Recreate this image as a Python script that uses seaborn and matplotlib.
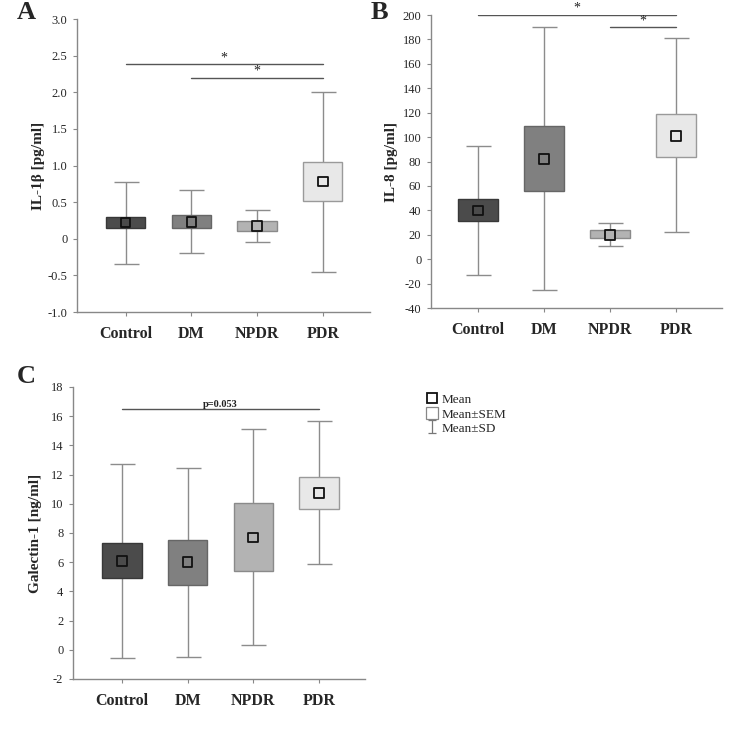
import numpy as np
import pandas as pd
import matplotlib
import matplotlib.pyplot as plt
import seaborn as sns
from matplotlib.lines import Line2D
from matplotlib.patches import Patch

matplotlib.use("Agg")

# ==========================================
# Data
# ==========================================
groups = ["Control", "DM", "NPDR", "PDR"]

il1b_mean = [0.22, 0.23, 0.17, 0.78]
il1b_sem_lo = [0.15, 0.15, 0.10, 0.51]
il1b_sem_hi = [0.30, 0.32, 0.24, 1.05]
il1b_sd_lo = [-0.34, -0.19, -0.05, -0.45]
il1b_sd_hi = [0.78, 0.66, 0.39, 2.01]

il8_mean = [40, 82, 20, 101]
il8_sem_lo = [31, 56, 17, 84]
il8_sem_hi = [49, 109, 24, 119]
il8_sd_lo = [-13, -25, 11, 22]
il8_sd_hi = [93, 190, 30, 181]

gal_mean = [6.1, 6.0, 7.7, 10.75]
gal_sem_lo = [4.9, 4.45, 5.4, 9.65]
gal_sem_hi = [7.3, 7.5, 10.05, 11.85]
gal_sd_lo = [-0.55, -0.5, 0.35, 5.85]
gal_sd_hi = [12.75, 12.45, 15.1, 15.7]

il1b_ticks = [-1.0, -0.5, 0, 0.5, 1.0, 1.5, 2.0, 2.5, 3.0]
il1b_ticklabels = ["-1.0", "-0.5", "0", "0.5", "1.0", "1.5", "2.0", "2.5", "3.0"]
il8_ticks = list(range(-40, 201, 20))
gal_ticks = list(range(-2, 19, 2))

# significance brackets: (start group, end group, y, text)
il1b_sig = [(0, 3, 2.38, "*"), (1, 3, 2.20, "*")]
il8_sig = [(0, 3, 200, "*"), (2, 3, 190, "*")]
gal_sig = [(0, 3, 16.5, "p=0.053")]

fills = ["#4b4b4b", "#808080", "#b3b3b3", "#e8e8e8"]
edges = ["#383838", "#666666", "#8a8a8a", "#9a9a9a"]

sns.set_style("ticks")
plt.rcParams["font.family"] = ["Liberation Serif", "DejaVu Serif"]


def make_df(mean, sem_lo, sem_hi, sd_lo, sd_hi):
    return pd.DataFrame({
        "group": groups,
        "pos": np.arange(len(groups)),
        "mean": mean,
        "sem_lo": sem_lo,
        "sem_hi": sem_hi,
        "sd_lo": sd_lo,
        "sd_hi": sd_hi,
    })


def draw_panel(ax, df, ylabel, ticks, ticklabels, ylim, xlim, sigs, sig_fs, sig_bold, labelpad):
    err = [df["mean"] - df["sd_lo"], df["sd_hi"] - df["mean"]]
    ax.errorbar(df["pos"], df["mean"], yerr=err, fmt="none", ecolor="#8c8c8c",
                elinewidth=1.0, capsize=9, capthick=1.0, zorder=1)
    ax.bar(df["pos"], df["sem_hi"] - df["sem_lo"], bottom=df["sem_lo"], width=0.6,
           color=fills, edgecolor=edges, linewidth=1.0, zorder=2)
    sns.scatterplot(data=df, x="pos", y="mean", hue="group", palette=fills, marker="s",
                    s=48, edgecolor="#111111", linewidth=1.3, legend=False, ax=ax, zorder=3)

    for g0, g1, y, txt in sigs:
        ax.plot([g0, g1], [y, y], color="#555555", lw=1.0, zorder=1)
        ax.text((g0 + g1) / 2, y, txt, ha="center", va="bottom", fontsize=sig_fs,
                fontweight="bold" if sig_bold else "normal", color="#222222")

    ax.set_xlim(*xlim)
    ax.set_ylim(*ylim)
    ax.set_xticks(df["pos"])
    ax.set_xticklabels(groups, fontsize=11.5, fontweight="bold")
    ax.set_yticks(ticks)
    ax.set_yticklabels(ticklabels, fontsize=9)
    ax.set_xlabel("")
    ax.set_ylabel(ylabel, fontsize=11, fontweight="bold", labelpad=labelpad)
    ax.tick_params(axis="x", length=3, width=0.8, color="#888888", pad=7)
    ax.tick_params(axis="y", length=3, width=0.8, color="#888888", pad=4)
    for side in ["top", "right"]:
        ax.spines[side].set_visible(False)
    for side in ["left", "bottom"]:
        ax.spines[side].set_color("#888888")
        ax.spines[side].set_linewidth(1.0)
    ax.grid(False)


fig = plt.figure(figsize=(7.5, 7.52), dpi=100)

ax_a = fig.add_axes([0.1027, 0.5851, 0.3907, 0.3896])
ax_b = fig.add_axes([0.5747, 0.5904, 0.388, 0.3896])
ax_c = fig.add_axes([0.0973, 0.0971, 0.3893, 0.3883])

draw_panel(ax_a, make_df(il1b_mean, il1b_sem_lo, il1b_sem_hi, il1b_sd_lo, il1b_sd_hi),
           "IL-1β [pg/ml]", il1b_ticks, il1b_ticklabels, (-1.0, 3.0), (-0.74, 3.72),
           il1b_sig, 10, False, 2)
draw_panel(ax_b, make_df(il8_mean, il8_sem_lo, il8_sem_hi, il8_sd_lo, il8_sd_hi),
           "IL-8 [pg/ml]", il8_ticks, [str(t) for t in il8_ticks], (-40, 200), (-0.71, 3.7),
           il8_sig, 10, False, 3)
draw_panel(ax_c, make_df(gal_mean, gal_sem_lo, gal_sem_hi, gal_sd_lo, gal_sd_hi),
           "Galectin-1 [ng/ml]", gal_ticks, [str(t) for t in gal_ticks], (-2, 18),
           (-0.745, 3.7), gal_sig, 7.5, True, 6)

# panel letters
fig.text(0.035, 0.984, "A", fontsize=19, fontweight="bold", ha="center", va="center")
fig.text(0.506, 0.984, "B", fontsize=19, fontweight="bold", ha="center", va="center")
fig.text(0.035, 0.499, "C", fontsize=19, fontweight="bold", ha="center", va="center")

# legend handles; the SD handle is a dummy errorbar with small caps
h_mean = Line2D([], [], marker="s", ls="none", markersize=7, markerfacecolor="white",
                markeredgecolor="#111111", markeredgewidth=1.3)
h_sem = Patch(facecolor="white", edgecolor="#888888", linewidth=0.9)
h_sd = ax_c.errorbar([np.nan], [np.nan], yerr=[1], fmt="none", ecolor="#777777",
                     elinewidth=0.9, capsize=3, capthick=0.9)
fig.legend([h_mean, h_sem, h_sd], ["Mean", "Mean±SEM", "Mean±SD"],
           loc="upper left", bbox_to_anchor=(0.568, 1 - 393 / 752), frameon=False,
           fontsize=9.5, handlelength=0.9, handleheight=1.0, handletextpad=0.3,
           labelspacing=0.05, borderaxespad=0, borderpad=0)

plt.savefig("out.png", dpi=100)
plt.close()
